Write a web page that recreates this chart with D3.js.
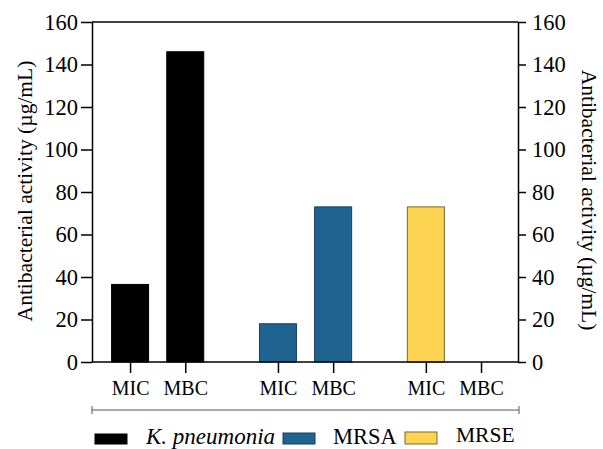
<!DOCTYPE html>
<html>
<head>
<meta charset="utf-8">
<script src="https://cdn.jsdelivr.net/npm/d3@7"></script>
<style>
  body { margin: 0; background: #fff; }
</style>
</head>
<body>
<script>
'use strict';

// data
var groups = ['K. pneumonia', 'MRSA', 'MRSE'];
var measures = ['MIC', 'MBC'];
var kpnValues = [36.5, 146];
var mrsaValues = [18, 73];
var mrseValues = [73, 0];
var yTicks = [0, 20, 40, 60, 80, 100, 120, 140, 160];

var fills = ['#000000', '#1f6391', '#fdd352'];
var strokes = ['#000000', '#1b3f5c', '#7d6532'];

var series = [kpnValues, mrsaValues, mrseValues];
var bars = [];
series.forEach(function (vals, g) {
  vals.forEach(function (v, i) {
    bars.push({ group: g, measure: measures[i], pos: g * 2.68 + i, value: v });
  });
});

var FONT = '"Liberation Serif"';
var svg = d3.select('body').append('svg').attr('width', 603).attr('height', 449)
  .style('font-family', FONT);

var pLeft = 92, pRight = 518, pTop = 22, pBottom = 362;

var x = d3.scaleLinear().domain([-0.69, 7.03]).range([pLeft, pRight]);
var y = d3.scaleLinear().domain([0, 160]).range([pBottom, pTop]);
var barW = 37;

// bars
svg.selectAll('.bar').data(bars.filter(function (d) { return d.value > 0; }))
  .enter().append('rect')
  .attr('class', 'bar')
  .attr('x', function (d) { return x(d.pos) - barW / 2; })
  .attr('y', function (d) { return y(d.value); })
  .attr('width', barW)
  .attr('height', function (d) { return y(0) - y(d.value); })
  .attr('fill', function (d) { return fills[d.group]; })
  .attr('stroke', function (d) { return strokes[d.group]; })
  .attr('stroke-width', 1);

// top line of the frame
svg.append('line').attr('x1', pLeft).attr('x2', pRight).attr('y1', pTop).attr('y2', pTop)
  .attr('stroke', '#000').attr('stroke-width', 1.5);

var yl = svg.append('g').attr('transform', 'translate(' + pLeft + ',0)')
  .call(d3.axisLeft(y).tickValues(yTicks).tickSize(11).tickPadding(3).tickSizeOuter(0));
var yr = svg.append('g').attr('transform', 'translate(' + pRight + ',0)')
  .call(d3.axisRight(y).tickValues(yTicks).tickSize(8).tickPadding(6).tickSizeOuter(0));
[yl, yr].forEach(function (a) {
  a.attr('font-family', FONT).attr('font-size', 22.5);
  a.selectAll('path, line').attr('stroke', '#000').attr('stroke-width', 1.5);
  a.selectAll('text').attr('fill', '#000');
});

var xa = svg.append('g').attr('transform', 'translate(0,' + pBottom + ')')
  .call(d3.axisBottom(x).tickValues(bars.map(function (d) { return d.pos; }))
    .tickFormat(function (d, i) { return bars[i].measure; })
    .tickSize(11).tickPadding(8).tickSizeOuter(0));
xa.attr('font-family', FONT).attr('font-size', 20);
xa.select('.domain').attr('d', 'M' + pLeft + ',0H' + pRight);
xa.selectAll('path, line').attr('stroke', '#000').attr('stroke-width', 1.5);
xa.selectAll('text').attr('fill', '#000');

// axis titles
svg.append('text')
  .attr('transform', 'translate(32,191) rotate(-90)')
  .attr('text-anchor', 'middle')
  .attr('font-size', 21.5)
  .text('Antibacterial activity (µg/mL)');
svg.append('text')
  .attr('transform', 'translate(582,200) rotate(90)')
  .attr('text-anchor', 'middle')
  .attr('font-size', 21.5)
  .text('Antibacterial activity (µg/mL)');

// bracket under categories
var by = 410;
svg.append('path')
  .attr('d', 'M' + pLeft + ',' + (by - 4) + 'V' + (by + 4) + 'M' + pLeft + ',' + by + 'H' + (pRight + 1) +
    'M' + (pRight + 1) + ',' + (by - 4) + 'V' + (by + 4))
  .attr('stroke', '#555').attr('stroke-width', 1).attr('fill', 'none');

// legend
var legX = [95, 283, 405];
var legY = [434, 433, 432];
var legTextX = [146, 333, 456];
var legSize = [23, 22.5, 21.5];
var leg = svg.selectAll('.leg').data(groups).enter().append('g').attr('class', 'leg');
leg.append('rect')
  .attr('x', function (d, i) { return legX[i]; })
  .attr('y', function (d, i) { return legY[i]; })
  .attr('width', 32)
  .attr('height', function (d, i) { return 444 - legY[i]; })
  .attr('fill', function (d, i) { return fills[i]; })
  .attr('stroke', function (d, i) { return strokes[i]; })
  .attr('stroke-width', 1);
leg.append('text')
  .attr('x', function (d, i) { return legTextX[i]; })
  .attr('y', function (d, i) { return i === 2 ? 442 : 444; })
  .attr('font-size', function (d, i) { return legSize[i]; })
  .style('font-style', function (d, i) { return i === 0 ? 'italic' : 'normal'; })
  .text(function (d) { return d; });
</script>
</body>
</html>
